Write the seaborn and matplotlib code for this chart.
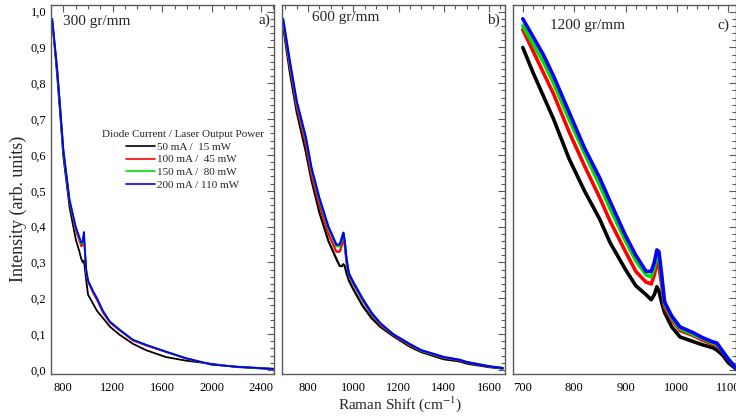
import numpy as np
import pandas as pd
import matplotlib
matplotlib.use("Agg")
import matplotlib.pyplot as plt
import seaborn as sns
from matplotlib.ticker import MultipleLocator, FuncFormatter

# ---- data ----
labels = ["50 mA /  15 mW", "100 mA /  45 mW", "150 mA /  80 mW", "200 mA / 110 mW"]
colors = ["#000000", "#ff0000", "#00dd00", "#0000ff"]

# panel a) 300 gr/mm
x_300 = [710, 730, 750, 775, 800, 850, 900, 930, 945, 958, 966, 972, 985, 1000, 1040,
         1072, 1120, 1176, 1256, 1363, 1470, 1630, 1790, 2000, 2200, 2400, 2500]
y_300_50 = [0.97, 0.90, 0.82, 0.71, 0.595, 0.455, 0.365, 0.33, 0.31, 0.30, 0.305, 0.29, 0.25,
            0.21, 0.185, 0.165, 0.145, 0.121, 0.098, 0.073, 0.055, 0.036, 0.026, 0.017,
            0.008, 0.004, 0.002]
y_300_100 = [0.975, 0.905, 0.835, 0.725, 0.61, 0.47, 0.39, 0.36, 0.345, 0.35, 0.375, 0.34,
             0.275, 0.245, 0.215, 0.195, 0.16, 0.132, 0.11, 0.082, 0.068, 0.05, 0.032,
             0.015, 0.009, 0.005, 0.003]
y_300_150 = [0.978, 0.908, 0.838, 0.728, 0.613, 0.473, 0.398, 0.366, 0.352, 0.357, 0.382,
             0.347, 0.278, 0.248, 0.22, 0.2, 0.165, 0.135, 0.112, 0.084, 0.07, 0.051, 0.033,
             0.015, 0.009, 0.005, 0.003]
y_300_200 = [0.98, 0.91, 0.84, 0.73, 0.615, 0.475, 0.40, 0.37, 0.355, 0.36, 0.385, 0.35, 0.28,
             0.25, 0.22, 0.20, 0.165, 0.135, 0.112, 0.084, 0.070, 0.051, 0.033, 0.015,
             0.009, 0.005, 0.003]

# panel b) 600 gr/mm
x_600 = [690, 720, 750, 790, 815, 850, 890, 925, 940, 950, 956, 962, 970, 980, 1000, 1040,
         1080, 1120, 1175, 1250, 1300, 1400, 1470, 1500, 1600, 1660]
y_600_50 = [0.96, 0.83, 0.72, 0.61, 0.53, 0.44, 0.36, 0.31, 0.29, 0.29, 0.295, 0.29, 0.27,
            0.25, 0.225, 0.18, 0.145, 0.12, 0.095, 0.065, 0.05, 0.03, 0.024, 0.018, 0.008,
            0.004]
y_600_100 = [0.97, 0.845, 0.735, 0.63, 0.545, 0.46, 0.38, 0.33, 0.33, 0.35, 0.37, 0.35, 0.30,
             0.265, 0.24, 0.195, 0.155, 0.125, 0.098, 0.069, 0.053, 0.034, 0.027, 0.021,
             0.009, 0.005]
y_600_150 = [0.975, 0.855, 0.745, 0.645, 0.56, 0.475, 0.395, 0.345, 0.345, 0.365, 0.38,
             0.355, 0.305, 0.268, 0.243, 0.198, 0.158, 0.128, 0.1, 0.071, 0.054, 0.035,
             0.028, 0.022, 0.01, 0.005]
y_600_200 = [0.98, 0.86, 0.75, 0.65, 0.565, 0.48, 0.40, 0.35, 0.35, 0.37, 0.383, 0.36, 0.31,
             0.27, 0.245, 0.20, 0.16, 0.13, 0.10, 0.072, 0.055, 0.036, 0.028, 0.022, 0.01,
             0.005]

# panel c) 1200 gr/mm
x_1200 = [700, 720, 740, 760, 790, 820, 850, 870, 900, 920, 940, 950, 956, 961, 965, 970,
          976, 990, 1006, 1030, 1050, 1070, 1078, 1090, 1100, 1115]
y_1200_50 = [0.90, 0.83, 0.765, 0.70, 0.59, 0.50, 0.42, 0.355, 0.28, 0.235, 0.21, 0.196,
             0.21, 0.232, 0.22, 0.19, 0.16, 0.12, 0.092, 0.08, 0.07, 0.062, 0.055, 0.04,
             0.02, 0.003]
y_1200_100 = [0.95, 0.89, 0.83, 0.77, 0.665, 0.57, 0.48, 0.415, 0.33, 0.275, 0.245, 0.24,
              0.265, 0.30, 0.29, 0.24, 0.175, 0.14, 0.11, 0.097, 0.083, 0.072, 0.068, 0.048,
              0.03, 0.006]
y_1200_150 = [0.96, 0.91, 0.86, 0.80, 0.70, 0.605, 0.515, 0.45, 0.36, 0.305, 0.265, 0.26,
              0.285, 0.32, 0.315, 0.26, 0.185, 0.145, 0.115, 0.10, 0.087, 0.075, 0.072,
              0.05, 0.03, 0.005]
y_1200_200 = [0.98, 0.93, 0.88, 0.82, 0.72, 0.62, 0.535, 0.47, 0.375, 0.32, 0.275, 0.275,
              0.30, 0.335, 0.33, 0.27, 0.19, 0.15, 0.12, 0.105, 0.09, 0.078, 0.075, 0.05,
              0.03, 0.005]


def to_long(x, series):
    frames = []
    for lab, y in zip(labels, series):
        frames.append(pd.DataFrame({"shift": x, "intensity": y, "power": lab}))
    return pd.concat(frames, ignore_index=True)


panels = [
    (to_long(x_300, [y_300_50, y_300_100, y_300_150, y_300_200]), "300 gr/mm", "a)",
     (700, 2505), [800, 1200, 1600, 2000, 2400], 100, 1.3),
    (to_long(x_600, [y_600_50, y_600_100, y_600_150, y_600_200]), "600 gr/mm", "b)",
     (685, 1670), [800, 1000, 1200, 1400, 1600], 50, 1.6),
    (to_long(x_1200, [y_1200_50, y_1200_100, y_1200_150, y_1200_200]), "1200 gr/mm", "c)",
     (681, 1115), [700, 800, 900, 1000, 1100], 20, 2.6),
]

sns.set_style("white")
plt.rcParams["font.family"] = ["Liberation Serif", "DejaVu Serif"]
plt.rcParams["mathtext.fontset"] = "stix"

fig = plt.figure(figsize=(7.36, 4.17), dpi=100)
W, H = 736, 417
bottom, top = 373.5, 4.5
boxes = [(51, 274), (282, 505), (513, 736)]
# label positions (pixels) for panel title and letter
title_pos = [(63, 22), (312, 17), (550, 25)]
letter_pos = [(270, 20), (500, 20), (729, 25)]

edge = "#5a5a5a"
comma = FuncFormatter(lambda v, p: f"{v:.1f}".replace(".", ","))

for i, (df, title, letter, xlim, xt, xminor, lw) in enumerate(panels):
    l, r = boxes[i]
    ax = fig.add_axes([l / W, 1 - bottom / H, (r - l) / W, (bottom - top) / H])
    sns.lineplot(data=df, x="shift", y="intensity", hue="power", palette=colors,
                 hue_order=labels, linewidth=lw, ax=ax, legend=False)
    ax.set_xlim(*xlim)
    ax.set_ylim(-0.01, 1.02)
    ax.set_xticks(xt)
    ax.xaxis.set_minor_locator(MultipleLocator(xminor))
    ax.yaxis.set_major_locator(MultipleLocator(0.1))
    ax.yaxis.set_minor_locator(MultipleLocator(0.02))
    ax.yaxis.set_major_formatter(comma)
    ax.tick_params(which="both", direction="in", top=True, right=True, colors=edge,
                   labelcolor="black", labelsize=9, width=0.8)
    ax.tick_params(which="major", length=5)
    ax.tick_params(which="minor", length=3)
    ax.tick_params(axis="x", pad=6)
    if i > 0:
        ax.tick_params(axis="y", labelleft=False)
    ax.set_xlabel("")
    ax.set_ylabel("")
    for s in ax.spines.values():
        s.set_color(edge)
        s.set_linewidth(1.0)

    tx, ty = title_pos[i]
    ax.text((tx - l) / (r - l), (bottom - ty) / (bottom - top), title,
            transform=ax.transAxes, fontsize=11, ha="left", va="center")
    lx, ly = letter_pos[i]
    ax.text((lx - l) / (r - l), (bottom - ly) / (bottom - top), letter,
            transform=ax.transAxes, fontsize=11, ha="right", va="center")

    if i == 0:
        handles = [plt.Line2D([], [], color=c, lw=1.2) for c in colors]
        leg = ax.legend(handles, labels, title="Diode Current / Laser Output Power",
                        loc="upper center", bbox_to_anchor=((183 - l) / (r - l), 0.68),
                        frameon=False, fontsize=8, title_fontsize=8, handlelength=2.6,
                        handletextpad=0.2, labelspacing=0.25, borderpad=0.2)

fig.text(18 / W, 0.5, "Intensity (arb. units)", rotation=90, ha="center", va="center",
         fontsize=13)
fig.text(400 / W, 1 - 404 / H, "Raman Shift (cm$^{-1}$)", ha="center", va="center",
         fontsize=11)

fig.savefig("out.png", dpi=100)
